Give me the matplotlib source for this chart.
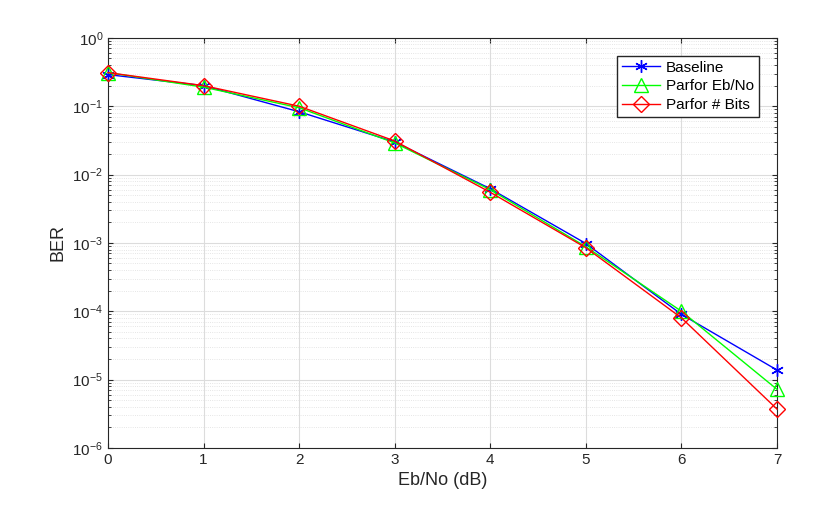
import matplotlib
matplotlib.use("Agg")
import matplotlib.pyplot as plt

plt.rcParams['font.family'] = ['Liberation Sans', 'DejaVu Sans']

ebno = [0, 1, 2, 3, 4, 5, 6, 7]
baseline = [0.29, 0.20, 0.083, 0.030, 0.0062, 0.00098, 9.0e-5, 1.38e-5]
parfor_ebno = [0.31, 0.19, 0.095, 0.029, 0.0060, 0.00088, 1.0e-4, 7.2e-6]
parfor_bits = [0.31, 0.20, 0.100, 0.031, 0.0055, 0.00085, 8.0e-5, 3.7e-6]

fig = plt.figure(figsize=(8.4, 5.05), dpi=100)
ax = fig.add_axes([0.1286, 0.113, 0.7964, 0.812])
ax.semilogy(ebno, baseline, color='#0000ff', marker=(6, 2, 0), markersize=9, lw=1,
            mew=1, label='Baseline', clip_on=False, zorder=3)
ax.semilogy(ebno, parfor_ebno, color='#00ff00', marker='^', markersize=10, lw=1,
            mfc='none', label='Parfor Eb/No', clip_on=False, zorder=3)
ax.semilogy(ebno, parfor_bits, color='#ff0000', marker='D', markersize=8, lw=1,
            mfc='none', label='Parfor # Bits', clip_on=False, zorder=3)
ax.set_xlim(0, 7)
ax.set_ylim(1e-6, 1)
ax.grid(True, which='major', color='#dcdcdc', lw=0.8)
ax.grid(True, which='minor', color='#dddddd', lw=0.6, ls=':')
ax.set_xlabel('Eb/No (dB)', fontsize=13, color='#262626')
ax.set_ylabel('BER', fontsize=13, color='#262626')
ax.tick_params(labelsize=11, colors='#262626', direction='in', which='both', top=True, right=True)
for s in ax.spines.values():
    s.set_color('#262626')
leg = ax.legend(loc='upper right', fontsize=11, fancybox=False, framealpha=1,
                edgecolor='#262626', borderaxespad=1.2, handlelength=2.5,
                borderpad=0.3, labelspacing=0.3, handletextpad=0.4)
fig.savefig('out.png', dpi=100)
